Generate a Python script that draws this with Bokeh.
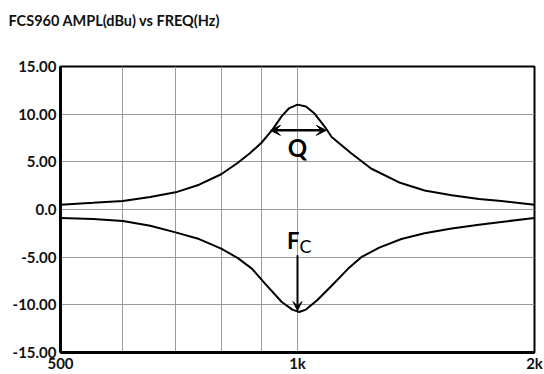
from bokeh.plotting import figure
from bokeh.models import FixedTicker, Arrow, VeeHead, Label, Title
from bokeh.embed import file_html
from bokeh.resources import INLINE

# ---- data ----
boost_freq = [500, 550, 600, 650, 700, 750, 800, 840, 870, 900, 930, 955, 975, 1000,
              1025, 1050, 1085, 1105, 1170, 1240, 1350, 1450, 1570, 1700, 1815, 2000]
boost = [0.5, 0.7, 0.9, 1.3, 1.8, 2.6, 3.7, 4.9, 5.9, 7.0, 8.4, 9.8, 10.6, 11.0,
         10.8, 10.1, 8.6, 7.6, 5.9, 4.3, 2.8, 2.0, 1.5, 1.1, 0.9, 0.5]
cut_freq = [500, 550, 600, 650, 700, 750, 800, 840, 875, 910, 955, 985, 1005, 1025, 1060,
            1105, 1160, 1205, 1270, 1355, 1450, 1570, 1700, 1815, 2000]
cut = [-0.9, -1.0, -1.2, -1.7, -2.4, -3.1, -4.1, -5.1, -6.2, -7.8, -9.7, -10.5, -10.75, -10.5, -9.5,
       -8.0, -6.2, -5.0, -4.0, -3.1, -2.5, -2.0, -1.6, -1.3, -0.9]

y_ticks = [-15, -10, -5, 0, 5, 10, 15]
y_tick_labels = ["-15.00", "-10.00", "-5.00", "0.0", "5.00", "10.00", "15.00"]
x_ticks = [500, 1000, 2000]
x_tick_labels = ["500", "1k", "2k"]
x_grid = [600, 700, 800, 900, 1000]
y_grid = [-10, -5, 0, 5, 10]

title_text = "FCS960 AMPL(dBu) vs FREQ(Hz)"

FONT = "Lato"

p = figure(width=544, height=374, x_axis_type="log", x_range=(500, 2000), y_range=(-15, 15),
           output_backend="svg", toolbar_location=None,
           min_border_left=60, min_border_right=10, min_border_top=66, min_border_bottom=19)

# spacer title (nearest the frame) pushes the real title upward
p.add_layout(Title(text=" ", text_font=FONT, text_font_size="30px", standoff=0), "above")
p.title = Title(text=title_text, text_font=FONT, text_font_size="14.5px", text_font_style="bold",
                align="left", offset=-52, standoff=0, text_color="#111111")

p.outline_line_color = "black"
p.outline_line_width = 2
p.background_fill_color = "white"
p.border_fill_color = "white"

# axes
for ax in (p.xaxis[0], p.yaxis[0]):
    ax.axis_line_width = 3
    ax.axis_line_color = "black"
    ax.major_tick_in = 0
    ax.major_tick_out = 0
    ax.minor_tick_in = 0
    ax.minor_tick_out = 0
    ax.major_label_text_font = FONT
    ax.major_label_text_font_size = "15px"
    ax.major_label_text_font_style = "bold"
    ax.major_label_text_color = "#111111"

p.yaxis.ticker = FixedTicker(ticks=y_ticks)
p.yaxis.major_label_overrides = {t: l for t, l in zip(y_ticks, y_tick_labels)}
p.yaxis.major_label_standoff = 4
p.xaxis.ticker = FixedTicker(ticks=x_ticks)
p.xaxis.major_label_overrides = {t: l for t, l in zip(x_ticks, x_tick_labels)}
p.xaxis.major_label_standoff = 1

# grids
p.xgrid.ticker = FixedTicker(ticks=x_grid)
p.ygrid.ticker = FixedTicker(ticks=y_grid)
p.xgrid.grid_line_color = "#9a9a9a"
p.ygrid.grid_line_color = "#9a9a9a"
p.xgrid.grid_line_width = 1
p.ygrid.grid_line_width = 1

# curves
p.line(boost_freq, boost, line_color="black", line_width=2)
p.line(cut_freq, cut, line_color="black", line_width=2)

# Q annotation
p.add_layout(Arrow(start=VeeHead(size=10, fill_color="black", line_color="black"),
                   end=VeeHead(size=10, fill_color="black", line_color="black"),
                   x_start=924, y_start=8.3, x_end=1088, y_end=8.3,
                   line_color="black", line_width=2.5))
p.add_layout(Label(x=1000, y=6.5, text="Q", text_font=FONT, text_font_size="24px",
                   text_font_style="bold", text_align="center", text_baseline="middle",
                   text_color="black"))

# Fc annotation
p.add_layout(Arrow(end=VeeHead(size=9, fill_color="black", line_color="black"),
                   x_start=1000, y_start=-4.8, x_end=1000, y_end=-10.6,
                   line_color="black", line_width=2))
p.add_layout(Label(x=1000, y=-3.2, text="F", text_font=FONT, text_font_size="22px",
                   text_font_style="bold", text_align="right", text_baseline="middle",
                   x_offset=2, text_color="black"))
p.add_layout(Label(x=1000, y=-3.8, text="C", text_font=FONT, text_font_size="18px",
                   text_font_style="normal", text_align="left", text_baseline="middle",
                   x_offset=2, text_color="black"))

open("out.html", "w").write(file_html(p, INLINE))
